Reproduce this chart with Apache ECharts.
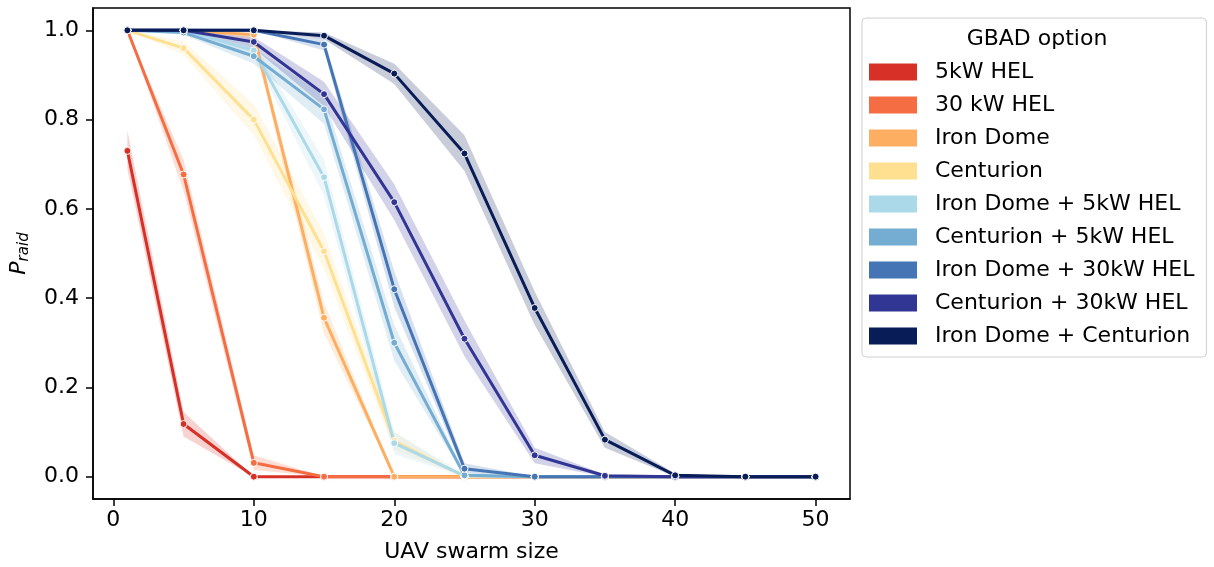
<!DOCTYPE html>
<html>
<head>
<meta charset="utf-8">
<script src="https://cdn.jsdelivr.net/npm/echarts@6/dist/echarts.min.js"></script>
<style>html,body{margin:0;padding:0;background:#fff;}#c{width:1214px;height:567px;}</style>
</head>
<body>
<div id="c"></div>
<script>
// ---- data ----
const swarmSizes = [1, 5, 10, 15, 20, 25, 30, 35, 40, 45, 50];
const xTicks = [0, 10, 20, 30, 40, 50];
const yTicks = [0, 0.2, 0.4, 0.6, 0.8, 1.0];
const seriesNames = ['5kW HEL', '30 kW HEL', 'Iron Dome', 'Centurion', 'Iron Dome + 5kW HEL',
  'Centurion + 5kW HEL', 'Iron Dome + 30kW HEL', 'Centurion + 30kW HEL', 'Iron Dome + Centurion'];
const seriesColors = ['#d73027', '#f46d43', '#fdae61', '#fee090', '#abd9e9', '#74add1', '#4575b4', '#313695', '#081d58'];

const p5kW      = [0.73, 0.118, 0, 0, 0, 0, 0, 0, 0, 0, 0];
const p30kW     = [1.0, 0.677, 0.031, 0, 0, 0, 0, 0, 0, 0, 0];
const pIronDome = [1.0, 1.0, 0.99, 0.356, 0, 0, 0, 0, 0, 0, 0];
const pCenturion= [1.0, 0.96, 0.80, 0.505, 0.08, 0, 0, 0, 0, 0, 0];
const pID5kW    = [1.0, 1.0, 0.955, 0.671, 0.075, 0.002, 0, 0, 0, 0, 0];
const pCe5kW    = [1.0, 0.995, 0.942, 0.823, 0.30, 0.003, 0, 0, 0, 0, 0];
const pID30kW   = [1.0, 1.0, 1.0, 0.968, 0.42, 0.018, 0, 0, 0, 0, 0];
const pCe30kW   = [1.0, 1.0, 0.974, 0.857, 0.615, 0.309, 0.048, 0.002, 0, 0, 0];
const pIDCe     = [1.0, 1.0, 1.0, 0.988, 0.903, 0.724, 0.378, 0.083, 0.003, 0, 0];

const lo5kW      = [0.69, 0.09, 0, 0, 0, 0, 0, 0, 0, 0, 0];
const hi5kW      = [0.775, 0.145, 0, 0, 0, 0, 0, 0, 0, 0, 0];
const lo30kW     = [1.0, 0.64, 0.015, 0, 0, 0, 0, 0, 0, 0, 0];
const hi30kW     = [1.0, 0.71, 0.048, 0, 0, 0, 0, 0, 0, 0, 0];
const loIronDome = [1.0, 1.0, 0.975, 0.32, 0, 0, 0, 0, 0, 0, 0];
const hiIronDome = [1.0, 1.0, 1.0, 0.39, 0, 0, 0, 0, 0, 0, 0];
const loCenturion= [1.0, 0.945, 0.765, 0.465, 0.06, 0, 0, 0, 0, 0, 0];
const hiCenturion= [1.0, 0.975, 0.835, 0.545, 0.10, 0, 0, 0, 0, 0, 0];
const loID5kW    = [1.0, 1.0, 0.94, 0.63, 0.05, 0, 0, 0, 0, 0, 0];
const hiID5kW    = [1.0, 1.0, 0.97, 0.71, 0.10, 0.006, 0, 0, 0, 0, 0];
const loCe5kW    = [1.0, 0.99, 0.925, 0.79, 0.26, 0, 0, 0, 0, 0, 0];
const hiCe5kW    = [1.0, 1.0, 0.96, 0.855, 0.34, 0.008, 0, 0, 0, 0, 0];
const loID30kW   = [1.0, 1.0, 1.0, 0.955, 0.38, 0.008, 0, 0, 0, 0, 0];
const hiID30kW   = [1.0, 1.0, 1.0, 0.98, 0.46, 0.03, 0, 0, 0, 0, 0];
const loCe30kW   = [1.0, 1.0, 0.96, 0.83, 0.575, 0.27, 0.03, 0, 0, 0, 0];
const hiCe30kW   = [1.0, 1.0, 0.985, 0.885, 0.655, 0.35, 0.065, 0.005, 0, 0, 0];
const loIDCe     = [1.0, 1.0, 1.0, 0.98, 0.88, 0.685, 0.34, 0.065, 0, 0, 0];
const hiIDCe     = [1.0, 1.0, 1.0, 0.995, 0.925, 0.765, 0.415, 0.10, 0.007, 0, 0];

const values = [p5kW, p30kW, pIronDome, pCenturion, pID5kW, pCe5kW, pID30kW, pCe30kW, pIDCe];
const lowers = [lo5kW, lo30kW, loIronDome, loCenturion, loID5kW, loCe5kW, loID30kW, loCe30kW, loIDCe];
const uppers = [hi5kW, hi30kW, hiIronDome, hiCenturion, hiID5kW, hiCe5kW, hiID30kW, hiCe30kW, hiIDCe];

// ---- chart ----
const FONT = 'DejaVu Sans';
function hexA(hex, a) {
  const n = parseInt(hex.slice(1), 16);
  return 'rgba(' + ((n >> 16) & 255) + ',' + ((n >> 8) & 255) + ',' + (n & 255) + ',' + a + ')';
}
const series = [];
seriesNames.forEach((name, k) => {
  const lo = lowers[k], hi = uppers[k];
  series.push({
    type: 'custom', name: name + ' CI', silent: true,
    data: [[swarmSizes[0], values[k][0]]],
    renderItem: function (params, api) {
      const pts = [];
      for (let i = 0; i < swarmSizes.length; i++) pts.push(api.coord([swarmSizes[i], hi[i]]));
      for (let i = swarmSizes.length - 1; i >= 0; i--) pts.push(api.coord([swarmSizes[i], lo[i]]));
      return { type: 'polygon', shape: { points: pts }, style: { fill: hexA(seriesColors[k], 0.22), stroke: null } };
    }
  });
  series.push({
    type: 'line', name: name,
    data: swarmSizes.map((x, i) => [x, values[k][i]]),
    symbol: 'circle', symbolSize: 7,
    lineStyle: { color: seriesColors[k], width: 3 },
    itemStyle: { color: seriesColors[k], borderColor: '#fff', borderWidth: 1 },
    emphasis: { disabled: true }
  });
});

const chart = echarts.init(document.getElementById('c'));
chart.setOption({
  animation: false,
  backgroundColor: '#fff',
  textStyle: { fontFamily: FONT },
  grid: { left: 93, right: 364, top: 8, bottom: 68, outerBoundsMode: 'none', containLabel: false,
    show: true, borderColor: '#000', borderWidth: 1.5, backgroundColor: 'transparent' },
  xAxis: {
    type: 'value', min: -1.45, max: 52.45,
    name: 'UAV swarm size', nameLocation: 'middle', nameGap: 42,
    nameTextStyle: { fontSize: 22, color: '#000', fontFamily: FONT },
    axisLine: { show: true, onZero: false, lineStyle: { color: '#000', width: 1.5 } },
    axisTick: { show: true, length: 7, lineStyle: { color: '#000', width: 1.5 }, customValues: xTicks },
    axisLabel: { fontSize: 22, color: '#000', margin: 10, fontFamily: FONT, customValues: xTicks },
    splitLine: { show: false }
  },
  yAxis: {
    type: 'value', min: -0.05, max: 1.05,
    name: '{p|P}{s|raid}', nameLocation: 'middle', nameGap: 61, nameRotate: 90,
    nameTextStyle: {
      color: '#000',
      rich: {
        p: { fontSize: 22, fontStyle: 'italic', fontFamily: FONT, color: '#000' },
        s: { fontSize: 15, fontStyle: 'italic', fontFamily: FONT, color: '#000', padding: [10, 0, 0, 0] }
      }
    },
    axisLine: { show: true, onZero: false, lineStyle: { color: '#000', width: 1.5 } },
    axisTick: { show: true, length: 7, lineStyle: { color: '#000', width: 1.5 }, customValues: yTicks },
    axisLabel: { fontSize: 22, color: '#000', margin: 14, fontFamily: FONT, customValues: yTicks, formatter: v => v.toFixed(1) },
    splitLine: { show: false }
  },
  legend: {
    data: seriesNames, orient: 'vertical', left: 862, top: 18,
    icon: 'rect', itemWidth: 48, itemHeight: 17, itemGap: 11,
    padding: [43, 12, 10, 7],
    borderColor: '#d0d0d0', borderWidth: 1, borderRadius: 4, backgroundColor: '#fff',
    selectedMode: false,
    itemStyle: { borderWidth: 0 },
    textStyle: { fontSize: 22, color: '#000', fontFamily: FONT, padding: [0, 0, 0, 13] }
  },
  graphic: [{
    type: 'text', x: 1037, y: 39, z: 100,
    style: { text: 'GBAD option', align: 'center', verticalAlign: 'middle', fontSize: 22, fontFamily: FONT, fill: '#000' }
  }],
  series: series
});
</script>
</body>
</html>
